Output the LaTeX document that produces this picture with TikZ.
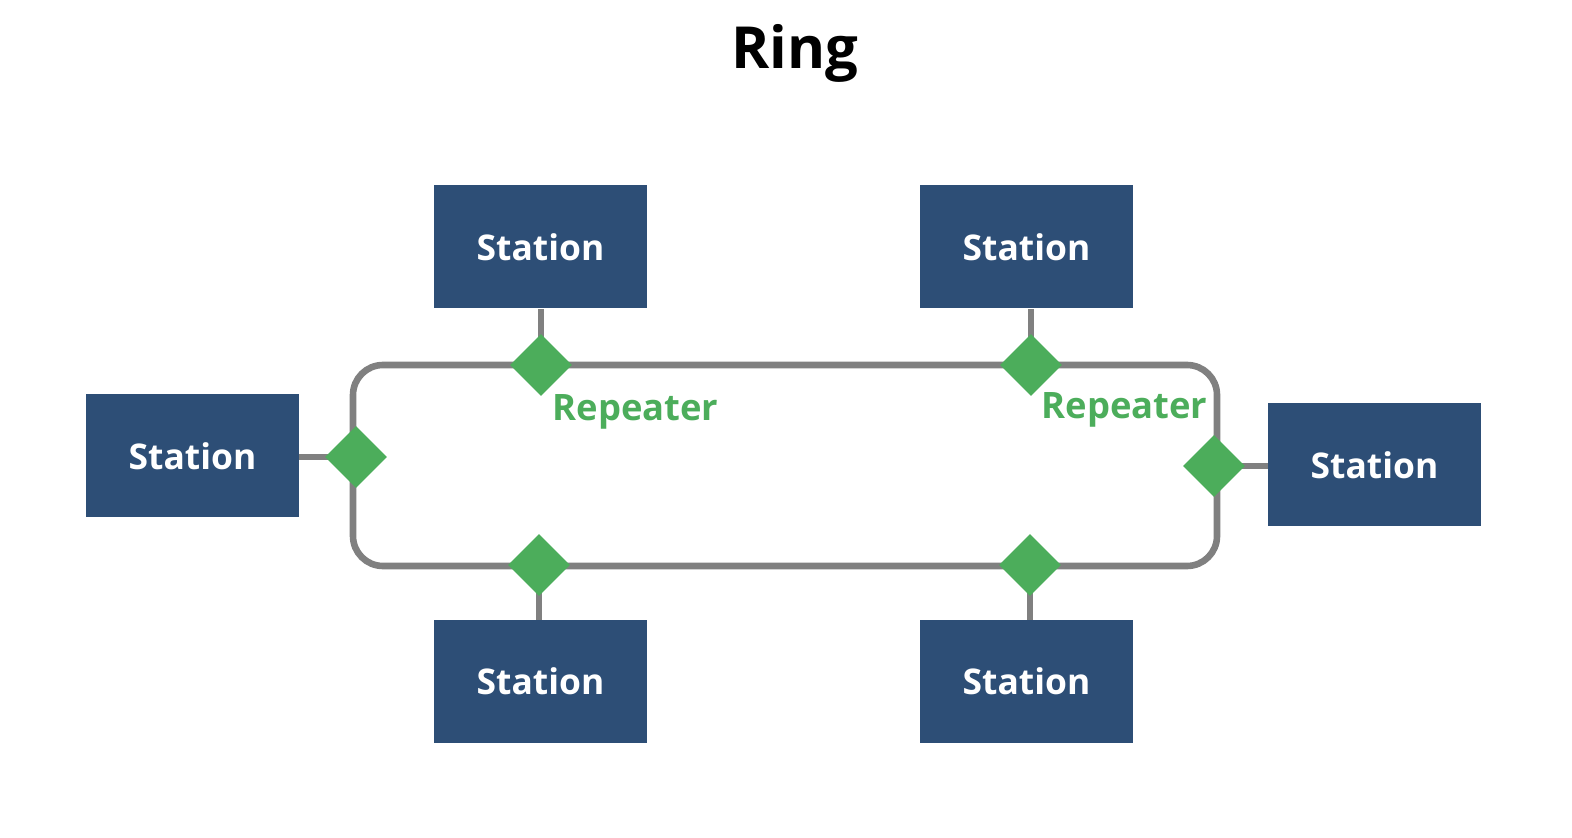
\documentclass[tikz,border=0pt]{standalone}
\usepackage{fontspec}
\setmainfont{Open Sans}
\usetikzlibrary{shapes.geometric,backgrounds}
\definecolor{boxblue}{HTML}{2D4E76}
\definecolor{repgreen}{HTML}{4CAD5B}
\definecolor{ringgray}{HTML}{808080}
\begin{document}
\begin{tikzpicture}[x=0.5pt,y=-0.5pt,
  station/.style={draw=none,fill=boxblue,text=white,font=\bfseries\fontsize{17.7}{20}\selectfont,minimum width=106.5pt,minimum height=61.5pt,inner sep=0pt},
  rep/.style={diamond,fill=repgreen,draw=none,minimum width=31pt,minimum height=31pt,inner sep=0pt},
  replabel/.style={text=repgreen,font=\bfseries\fontsize{18.2}{20}\selectfont,inner sep=0pt},
  wire/.style={draw=ringgray,line width=3.3pt}]
\useasboundingbox (0,0) rectangle (1572,838);
% repeaters
\node[rep] (r1) at (541,365) {};
\node[rep] (r2) at (1031,365) {};
\node[rep] (r3) at (356,457) {};
\node[rep] (r4) at (1214,466) {};
\node[rep] (r5) at (539,565) {};
\node[rep] (r6) at (1030,565) {};
% stations
\node[station] (s1) at (540.5,247) {Station};
\node[station] (s2) at (1026.5,247) {Station};
\node[station] (s3) at (192.5,456) {Station};
\node[station] (s4) at (1374.5,465) {Station};
\node[station] (s5) at (540.5,681.5) {Station};
\node[station] (s6) at (1026.5,681.5) {Station};
\begin{pgfonlayer}{background}
% ring
\draw[wire,rounded corners=15pt] (353,365) rectangle (1217,566);
% connectors
\draw[wire] (r1.center) -- (r1 |- s1.south);
\draw[wire] (r2.center) -- (r2 |- s2.south);
\draw[wire] (r3.center) -- (r3 -| s3.east);
\draw[wire] (r4.center) -- (r4 -| s4.west);
\draw[wire] (r5.center) -- (r5 |- s5.north);
\draw[wire] (r6.center) -- ([yshift=-3pt]r6 |- s6.north);
\end{pgfonlayer}
% labels
\node[replabel] (l1) at (635.5,412) {Repeater};
\node[replabel] (l2) at (1124.5,410) {Repeater};
\node[font=\bfseries\fontsize{29}{34}\selectfont] (title) at (795,53) {Ring};
\end{tikzpicture}
\end{document}
